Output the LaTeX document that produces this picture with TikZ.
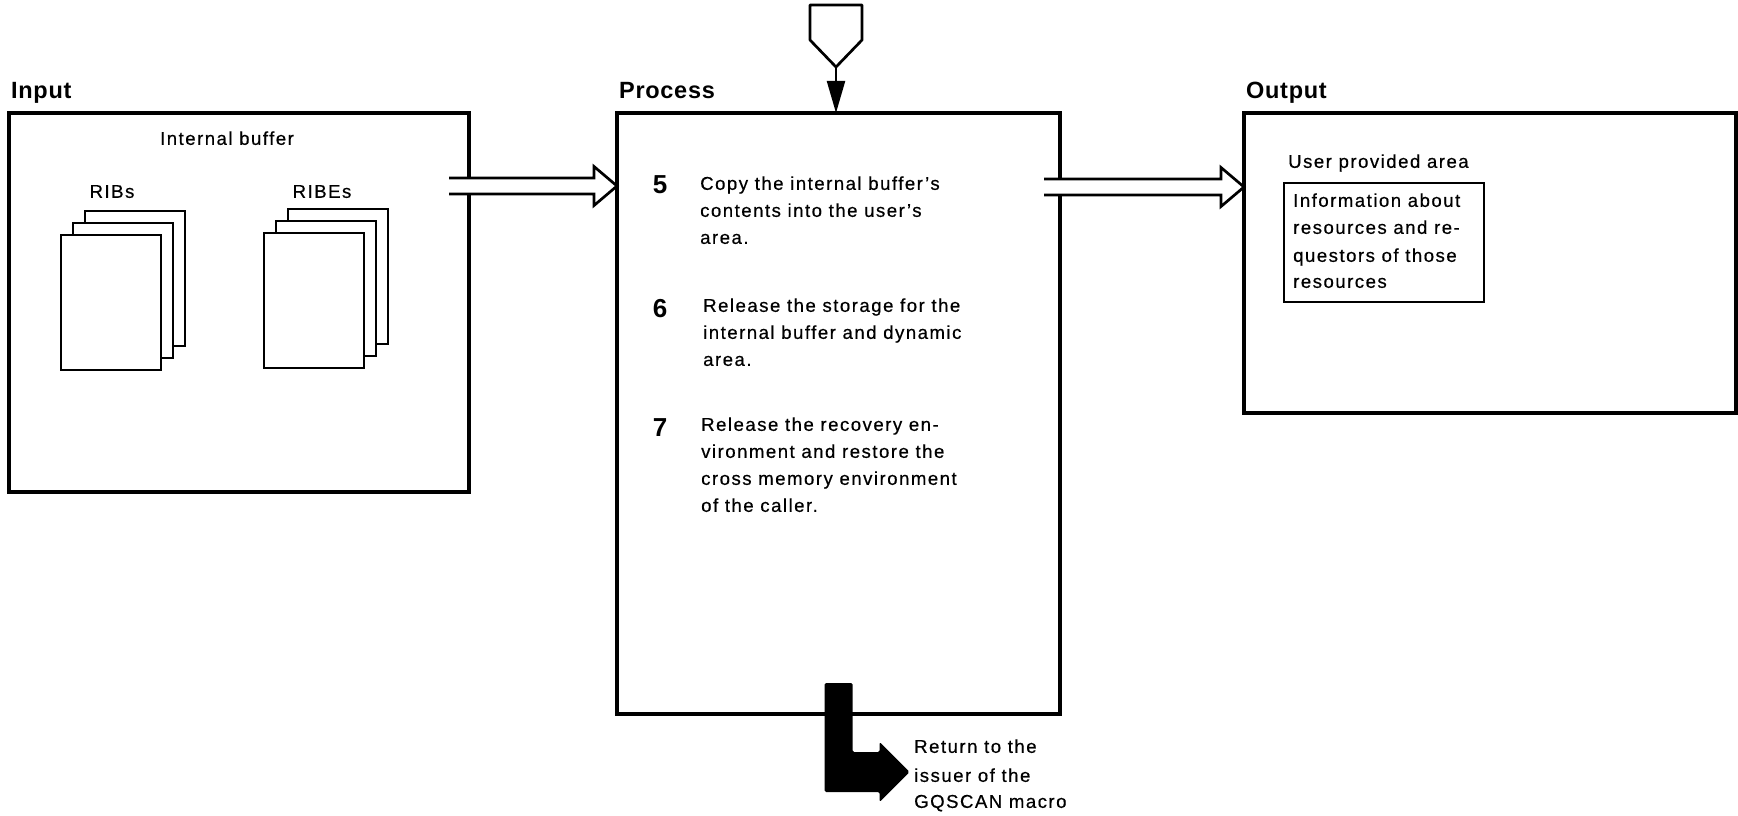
\documentclass[tikz,border=0pt]{standalone}
\usepackage{fontspec}
\setmainfont{Liberation Sans}
\newfontfamily\bodyfont{Liberation Sans}[LetterSpace=8,FakeBold=0.5]
\newfontfamily\headfont{Liberation Sans}[LetterSpace=3]
\usetikzlibrary{arrows.meta,calc}

% hollow block arrow from a tail point to a tip point (open at the tail)
\newcommand\hollowarrow[2]{%
  \fill[white] let \p1=(#1), \p2=(#2) in
    (\x1,\y1+8pt) -- (\x2-23pt,\y1+8pt) -- (\x2-23pt,\y1+19.5pt) -- (\x2,\y2)
    -- (\x2-23pt,\y1-19.5pt) -- (\x2-23pt,\y1-8pt) -- (\x1,\y1-8pt) -- cycle;
  \draw[line width=2.7pt, line join=miter] let \p1=(#1), \p2=(#2) in
    (\x1,\y1+8pt) -- (\x2-23pt,\y1+8pt) -- (\x2-23pt,\y1+19.5pt) -- (\x2,\y2)
    -- (\x2-23pt,\y1-19.5pt) -- (\x2-23pt,\y1-8pt) -- (\x1,\y1-8pt);
}

\begin{document}
\begin{tikzpicture}[x=1pt,y=-1pt,
  panel/.style={draw, line width=3.1pt, inner sep=0pt, outer sep=0pt},
  sheet/.style={draw, fill=white, line width=2.9pt, inner sep=0pt,
                minimum width=100pt, minimum height=135pt},
  title/.style={font=\headfont\bfseries\fontsize{23.5pt}{28pt}\selectfont,
                inner sep=0pt, anchor=base west},
  txt/.style={font=\bodyfont\fontsize{18.6pt}{27pt}\selectfont, inner sep=0pt,
              anchor=west, text height=13.6pt, text depth=3.9pt},
  num/.style={font=\bfseries\fontsize{26pt}{30pt}\selectfont, inner sep=0pt,
              anchor=center}]
\useasboundingbox (0,0) rectangle (1738,816);

% the three panels
\node[panel, minimum width=460pt, minimum height=379pt] (input) at (239,302.5) {};
\node[panel, minimum width=443pt, minimum height=601pt] (process) at (838.5,413.5) {};
\node[panel, minimum width=492pt, minimum height=300pt] (output) at (1490,263) {};

\node[title] (tin) at (11,99) {Input};
\node[title] (tproc) at (619,99) {Process};
\node[title] (tout) at (1246,99) {Output};

% input: internal buffer with the two stacks of blocks
\node[txt, anchor=center] (ibuf) at (227,140) {Internal buffer};
\node[txt, anchor=center] (lribs) at (112,193) {RIBs};
\node[txt, anchor=center] (lribes) at (322,193) {RIBEs};

\node[sheet] (ribs3) at (135,278.5) {};
\node[sheet] (ribs2) at (123,290.5) {};
\node[sheet] (ribs1) at (111,302.5) {};
\node[sheet] (ribes3) at (338,276.5) {};
\node[sheet] (ribes2) at (326,288.5) {};
\node[sheet] (ribes1) at (314,300.5) {};

% block arrows between panels
\coordinate (inTail) at (449,186);
\coordinate (inTip) at (process.west |- inTail);
\hollowarrow{inTail}{inTip}
\coordinate (outTail) at (1044,187);
\coordinate (outTip) at (output.west |- outTail);
\hollowarrow{outTail}{outTip}

% off-page connector entering the process
\coordinate (offpage) at (836,67);
\draw[line width=2.7pt, line join=round] (offpage) -- ++(-26,-27) -- ++(0,-35)
  -- ++(52,0) -- ++(0,35) -- cycle;
\draw[line width=2.2pt, -{Triangle[length=32pt,width=18pt]}]
  (offpage) -- (offpage |- process.north);

% process steps
\node[num] (n5) at (660,185) {5};
\node[txt] (s5a) at (700,185) {Copy the internal buffer’s};
\node[txt] (s5b) at (700,212) {contents into the user’s};
\node[txt] (s5c) at (700,239) {area.};

\node[num] (n6) at (660,309) {6};
\node[txt] (s6a) at (703,307) {Release the storage for the};
\node[txt] (s6b) at (703,334) {internal buffer and dynamic};
\node[txt] (s6c) at (703,361) {area.};

\node[num] (n7) at (660,428) {7};
\node[txt] (s7a) at (701,426) {Release the recovery en-};
\node[txt] (s7b) at (701,453) {vironment and restore the};
\node[txt] (s7c) at (701,480) {cross memory environment};
\node[txt] (s7d) at (701,507) {of the caller.};

% return exit
\coordinate (ret) at ($(process.south)+(0,-31)$);
\fill[rounded corners=1.5pt] (ret) ++(-14,0) -- ++(28,0) -- ++(0,69) -- ++(27,0)
  -- ++(0,-10) -- ++(30,30) -- ++(-30,30) -- ++(0,-10) -- ++(-55,0) -- cycle;
\node[txt] (r1) at (914,748) {Return to the};
\node[txt] (r2) at (914,777) {issuer of the};
\node[txt] (r3) at (914,803) {GQSCAN macro};

% output: user provided area
\node[txt] (upa) at (1288,163) {User provided area};
\node[draw, line width=2.8pt, inner sep=0pt, minimum width=200pt,
      minimum height=119pt] (info) at (1384,242.5) {};
\node[txt] (i1) at (1293,202) {Information about};
\node[txt] (i2) at (1293,229) {resources and re-};
\node[txt] (i3) at (1293,257) {questors of those};
\node[txt] (i4) at (1293,283) {resources};
\end{tikzpicture}
\end{document}
